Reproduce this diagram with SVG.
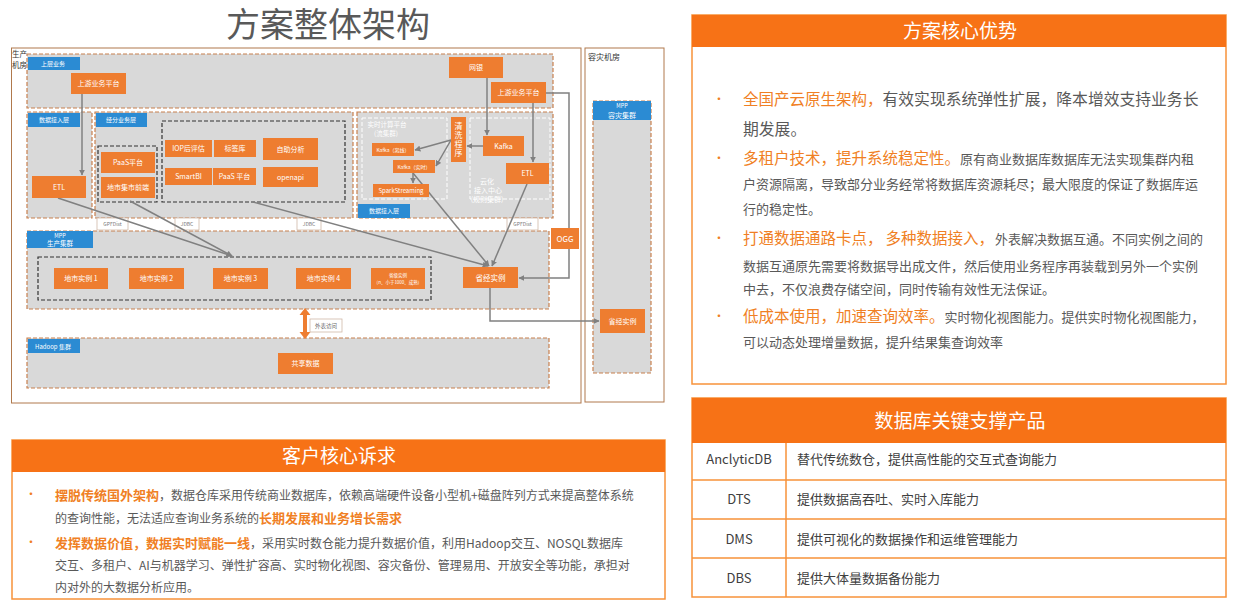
<svg xmlns="http://www.w3.org/2000/svg" width="1240" height="607" viewBox="0 0 1240 607">
<defs>
<marker id="ah" viewBox="0 0 10 10" refX="9" refY="5" markerWidth="6" markerHeight="6" markerUnits="userSpaceOnUse" orient="auto"><path d="M0,0 L10,5 L0,10 z" fill="#808080"/></marker>
</defs>
<style>
text{font-family:"Noto Sans CJK SC","Liberation Sans",sans-serif}
.rg{fill:#d9d9d9;stroke:#c8804f;stroke-width:1.2;stroke-dasharray:4 2}
.bk{fill:none;stroke:#333;stroke-width:1.2;stroke-dasharray:4 2}
.wd{fill:none;stroke:#fff;stroke-width:1;stroke-dasharray:4 2}
.nd{fill:#ee7d30}
.bl{fill:#2b8bd3}
.nt{fill:#fff;font-size:7px;text-anchor:middle}
.bt{fill:#fff;font-size:6px;text-anchor:middle}
.cn{fill:none;stroke:#808080;stroke-width:1.5}
.lb{fill:#fff;stroke:#d0b8a8;stroke-width:0.8}
.lt{fill:#777;font-size:5px;text-anchor:middle}
.room{fill:none;stroke:#b0794c;stroke-width:1}
.hd{fill:#f77216}
.pb{fill:#fff;stroke:#f7923a;stroke-width:1.5}
.ht{fill:#fff;font-size:19px;text-anchor:middle}
.og{fill:#f07f24}
.gy{fill:#595959}
.bu{fill:#f07f24;font-size:12px}
.tl{fill:none;stroke:#f7923a;stroke-width:1.5}
.tc{fill:#404040;font-size:13px}
</style>

<text x="328" y="37" font-size="34" fill="#595959" text-anchor="middle">方案整体架构</text>

<!-- rooms -->
<g id="prod-room">
<rect class="room" x="11.5" y="48" width="569.5" height="355"/>
<text x="12" y="57" font-size="7.5" fill="#333">生产</text>
<text x="12" y="68" font-size="7.5" fill="#333">机房</text>
</g>
<g id="dr-room">
<rect class="room" x="585" y="48" width="79" height="354"/>
<text x="588" y="60" font-size="8" fill="#333">容灾机房</text>
</g>

<!-- regions -->
<g id="upper-layer">
<rect class="rg" x="27" y="54" width="526" height="54"/>
<rect class="bl" x="28" y="57" width="52" height="13"/>
<text class="bt" x="53" y="65.5">上层业务</text>
</g>
<g id="access-left">
<rect class="rg" x="27" y="112" width="65" height="106"/>
<rect class="bl" x="28" y="113" width="52" height="14"/>
<text class="bt" x="54" y="122">数据接入层</text>
</g>
<g id="jingfen-layer">
<rect class="rg" x="95" y="112" width="258" height="106"/>
<rect class="bl" x="96" y="113" width="51" height="14"/>
<text class="bt" x="121" y="122">经分业务层</text>
<rect class="bk" x="98" y="146" width="59" height="56"/>
<rect class="bk" x="162" y="121" width="183" height="81"/>
</g>
<g id="realtime-layer">
<rect class="rg" x="357" y="112" width="196" height="106"/>
<rect class="wd" x="362" y="118" width="85" height="81"/>
<rect class="wd" x="470" y="118" width="80" height="81"/>
<text x="387" y="127" font-size="6.5" fill="#fff" text-anchor="middle">实时计算平台</text>
<text x="386" y="136" font-size="6.5" fill="#fff" text-anchor="middle">(流集群)</text>
<text x="487" y="184" font-size="7" fill="#fff" text-anchor="middle">云化</text>
<text x="488" y="193" font-size="7" fill="#fff" text-anchor="middle">接入中心</text>
<text x="487" y="202" font-size="7" fill="#fff" text-anchor="middle">(规则集群)</text>
<rect class="bl" x="358" y="204" width="52" height="14"/>
<text class="bt" x="384" y="213">数据接入层</text>
</g>
<g id="mpp-prod">
<rect class="rg" x="27" y="231" width="522" height="78"/>
<rect class="bl" x="27" y="231" width="66" height="17"/>
<text x="60" y="238" font-size="5.5" fill="#fff" text-anchor="middle">MPP</text>
<text x="60" y="246" font-size="6.5" fill="#fff" text-anchor="middle">生产集群</text>
<rect class="bk" x="38" y="257" width="393" height="43"/>
</g>
<g id="hadoop">
<rect class="rg" x="27" y="338" width="522" height="50"/>
<rect class="bl" x="28" y="339" width="52" height="14"/>
<text class="bt" x="53" y="348.5">Hadoop 集群</text>
</g>
<g id="mpp-dr">
<rect class="rg" x="593" y="101" width="58" height="272"/>
<rect class="bl" x="593" y="101" width="58" height="19"/>
<text x="622" y="108" font-size="5.5" fill="#fff" text-anchor="middle">MPP</text>
<text x="622" y="117.5" font-size="7" fill="#fff" text-anchor="middle">容灾集群</text>
</g>

<!-- interface labels -->
<g id="lbl-gpfdist1"><rect class="lb" x="97" y="218" width="31" height="12"/><text class="lt" x="112.5" y="226">GPFDist</text></g>
<g id="lbl-jdbc1"><rect class="lb" x="175" y="218" width="24" height="12"/><text class="lt" x="187" y="226">JDBC</text></g>
<g id="lbl-jdbc2"><rect class="lb" x="297" y="218" width="24" height="12"/><text class="lt" x="309" y="226">JDBC</text></g>
<g id="lbl-gpfdist2"><rect class="lb" x="507" y="218" width="31" height="12"/><text class="lt" x="522.5" y="226">GPFDist</text></g>

<!-- connectors -->
<g id="connectors">
<path class="cn" d="M82,94 L82,175" marker-end="url(#ah)"/>
<path class="cn" d="M487,78 L487,135" marker-end="url(#ah)"/>
<path class="cn" d="M533,103 L533,162" marker-end="url(#ah)"/>
<path class="cn" d="M546,93 L569,93 L569,278 L519,278" marker-end="url(#ah)"/>
<path class="cn" d="M483,146 L467,146" marker-end="url(#ah)"/>
<path class="cn" d="M451,140 L415,150" marker-end="url(#ah)"/>
<path class="cn" d="M451,140 L436,166" marker-end="url(#ah)"/>
<path class="cn" d="M413,173 L413,183" marker-end="url(#ah)"/>
<path class="cn" d="M413,173 L489,266" marker-end="url(#ah)"/>
<path class="cn" d="M527,184 L492,266" marker-end="url(#ah)"/>
<path class="cn" d="M253,202 L488,266" marker-end="url(#ah)"/>
<path class="cn" d="M58,198 L232,256" marker-end="url(#ah)"/>
<path class="cn" d="M130,201 L232,256" marker-end="url(#ah)"/>
<path class="cn" d="M490,288 L490,321 L599,321" marker-end="url(#ah)"/>
<polygon points="305,308 310.5,315 307,315 307,332 310.5,332 305,339 299.5,332 303,332 303,315 299.5,315" fill="#ee7d30"/>
</g>
<g id="lbl-external"><rect class="lb" x="310" y="319" width="32" height="13"/><text x="326" y="327.5" font-size="5.5" fill="#666" text-anchor="middle">外表访问</text></g>

<!-- nodes -->
<g id="n-upstream-l"><rect class="nd" x="71" y="73" width="55" height="21"/><text class="nt" x="98.5" y="86">上游业务平台</text></g>
<g id="n-wangyin"><rect class="nd" x="449" y="57" width="54" height="21"/><text class="nt" x="476" y="70">网银</text></g>
<g id="n-upstream-r"><rect class="nd" x="491" y="82" width="55" height="21"/><text class="nt" x="518.5" y="95">上游业务平台</text></g>
<g id="n-etl-l"><rect class="nd" x="32" y="176" width="54" height="22"/><text class="nt" x="59" y="189.5">ETL</text></g>
<g id="n-paas1"><rect class="nd" x="101" y="152" width="54" height="21"/><text class="nt" x="128" y="165">PaaS平台</text></g>
<g id="n-dishi-front"><rect class="nd" x="101" y="177" width="54" height="21"/><text class="nt" x="128" y="190">地市集市前端</text></g>
<g id="n-iop"><rect class="nd" x="165" y="140" width="47" height="17"/><text class="nt" x="188.5" y="151">IOP后评估</text></g>
<g id="n-tag"><rect class="nd" x="214" y="140" width="42" height="17"/><text class="nt" x="235" y="151">标签库</text></g>
<g id="n-selfana"><rect class="nd" x="263" y="138" width="55" height="22"/><text class="nt" x="290.5" y="151.5">自助分析</text></g>
<g id="n-smartbi"><rect class="nd" x="165" y="168" width="47" height="17"/><text class="nt" x="188.5" y="179">SmartBI</text></g>
<g id="n-paas2"><rect class="nd" x="213" y="168" width="43" height="17"/><text class="nt" x="234.5" y="179">PaaS 平台</text></g>
<g id="n-openapi"><rect class="nd" x="263" y="167" width="55" height="20"/><text class="nt" x="290.5" y="179.5">openapi</text></g>
<g id="n-clean"><rect class="nd" x="451" y="117" width="15" height="45"/>
<text x="458.5" y="129" font-size="8" fill="#fff" text-anchor="middle">清</text>
<text x="458.5" y="138" font-size="8" fill="#fff" text-anchor="middle">洗</text>
<text x="458.5" y="147" font-size="8" fill="#fff" text-anchor="middle">程</text>
<text x="458.5" y="156" font-size="8" fill="#fff" text-anchor="middle">序</text></g>
<g id="n-kafka-r"><rect class="nd" x="483" y="136" width="41" height="20"/><text class="nt" x="503.5" y="148.5">Kafka</text></g>
<g id="n-etl-r"><rect class="nd" x="506" y="163" width="43" height="21"/><text class="nt" x="527.5" y="176">ETL</text></g>
<g id="n-kafka-off"><rect class="nd" x="372" y="143" width="42" height="13"/><text x="393" y="151.5" font-size="5" fill="#fff" text-anchor="middle">Kafka（离线）</text></g>
<g id="n-kafka-rt"><rect class="nd" x="393" y="160" width="42" height="13"/><text x="414" y="168.5" font-size="5" fill="#fff" text-anchor="middle">Kafka（实时）</text></g>
<g id="n-spark"><rect class="nd" x="373" y="184" width="56" height="13"/><text x="401" y="192.5" font-size="6" fill="#fff" text-anchor="middle">SparkStreaming</text></g>
<g id="n-ds1"><rect class="nd" x="54" y="268" width="54" height="21"/><text class="nt" x="81" y="281">地市实例 1</text></g>
<g id="n-ds2"><rect class="nd" x="129" y="268" width="55" height="21"/><text class="nt" x="156.5" y="281">地市实例 2</text></g>
<g id="n-ds3"><rect class="nd" x="213" y="268" width="55" height="21"/><text class="nt" x="240.5" y="281">地市实例 3</text></g>
<g id="n-ds4"><rect class="nd" x="296" y="268" width="55" height="21"/><text class="nt" x="323.5" y="281">地市实例 4</text></g>
<g id="n-province-small"><rect class="nd" x="371" y="268" width="54" height="21"/>
<text x="398" y="277" font-size="4.5" fill="#fff" text-anchor="middle">省级实例</text>
<text x="398" y="284" font-size="4.5" fill="#fff" text-anchor="middle">(n、小于1000、成熟)</text></g>
<g id="n-shengjing"><rect class="nd" x="463" y="267" width="55" height="21"/><text x="490.5" y="280.5" font-size="7.5" fill="#fff" text-anchor="middle">省经实例</text></g>
<g id="n-ogg"><rect class="nd" x="551" y="228" width="28" height="21"/><text x="565" y="241.5" font-size="8" fill="#fff" text-anchor="middle">OGG</text></g>
<g id="n-share"><rect class="nd" x="278" y="353" width="55" height="21"/><text class="nt" x="305.5" y="366">共享数据</text></g>
<g id="n-shengjing-dr"><rect class="nd" x="600" y="309" width="45" height="24"/><text class="nt" x="622.5" y="323.5">省经实例</text></g>

<!-- panel: 方案核心优势 -->
<g id="panel-advantages">
<rect class="pb" x="692" y="15" width="534" height="369"/>
<rect class="hd" x="692" y="15" width="534" height="32"/>
<text class="ht" x="960" y="38">方案核心优势</text>
<text class="bu" x="713" y="104">•</text>
<text x="743" y="104.5" font-size="15.5"><tspan class="og">全国产云原生架构，</tspan><tspan class="gy" font-size="15.8">有效实现系统弹性扩展，降本增效支持业务长</tspan></text>
<text class="gy" x="743" y="134.5" font-size="15.8">期发展。</text>
<text class="bu" x="713" y="163">•</text>
<text x="743" y="163.5" font-size="15.5"><tspan class="og">多租户技术，提升系统稳定性。</tspan><tspan class="gy" font-size="13">原有商业数据库数据库无法实现集群内租</tspan></text>
<text class="gy" x="743" y="188.5" font-size="13">户资源隔离，导致部分业务经常将数据库资源耗尽；最大限度的保证了数据库运</text>
<text class="gy" x="743" y="213.5" font-size="13">行的稳定性。</text>
<text class="bu" x="713" y="243">•</text>
<text x="743" y="243.5" font-size="15.5"><tspan class="og">打通数据通路卡点，</tspan><tspan class="og" dx="3">多种数据接入，</tspan><tspan class="gy" font-size="13" dx="1">外表解决数据互通。不同实例之间的</tspan></text>
<text class="gy" x="743" y="270.5" font-size="13">数据互通原先需要将数据导出成文件，然后使用业务程序再装载到另外一个实例</text>
<text class="gy" x="743" y="293.5" font-size="13">中去，不仅浪费存储空间，同时传输有效性无法保证。</text>
<text class="bu" x="713" y="321">•</text>
<text x="743" y="321.5" font-size="15.5"><tspan class="og">低成本使用，加速查询效率。</tspan><tspan class="gy" font-size="13">实时物化视图能力。提供实时物化视图能力，</tspan></text>
<text class="gy" x="743" y="346.5" font-size="13">可以动态处理增量数据，提升结果集查询效率</text>
</g>

<!-- panel: 数据库关键支撑产品 -->
<g id="panel-products">
<rect class="pb" x="692" y="398" width="534" height="199"/>
<rect class="hd" x="692" y="398" width="534" height="45"/>
<text class="ht" x="960" y="428" font-size="20">数据库关键支撑产品</text>
<path class="tl" d="M692,480 H1226 M692,519 H1226 M692,558 H1226 M786,443 V597"/>
<text class="tc" x="739" y="464" text-anchor="middle">AnclyticDB</text>
<text class="tc" x="739" y="503.5" text-anchor="middle">DTS</text>
<text class="tc" x="739" y="543.5" text-anchor="middle">DMS</text>
<text class="tc" x="739" y="582.5" text-anchor="middle">DBS</text>
<text class="tc" x="797" y="464">替代传统数仓，提供高性能的交互式查询能力</text>
<text class="tc" x="797" y="503.5">提供数据高吞吐、实时入库能力</text>
<text class="tc" x="797" y="543.5">提供可视化的数据操作和运维管理能力</text>
<text class="tc" x="797" y="582.5">提供大体量数据备份能力</text>
</g>

<!-- panel: 客户核心诉求 -->
<g id="panel-needs">
<rect class="pb" x="12" y="440" width="653" height="159"/>
<rect class="hd" x="12" y="440" width="653" height="32"/>
<text class="ht" x="339" y="463">客户核心诉求</text>
<text class="bu" x="25" y="499">•</text>
<text x="55" y="499.5" font-size="12"><tspan class="og" font-size="13" font-weight="bold">摆脱传统国外架构</tspan><tspan class="gy">，数据仓库采用传统商业数据库，依赖高端硬件设备小型机+磁盘阵列方式来提高整体系统</tspan></text>
<text x="55" y="522.5" font-size="12"><tspan class="gy">的查询性能，无法适应查询业务系统的</tspan><tspan class="og" font-size="13" font-weight="bold">长期发展和业务增长需求</tspan></text>
<text class="bu" x="25" y="547">•</text>
<text x="55" y="547.5" font-size="12"><tspan class="og" font-size="13" font-weight="bold">发挥数据价值，数据实时赋能一线</tspan><tspan class="gy">，采用实时数仓能力提升数据价值，利用Hadoop交互、NOSQL数据库</tspan></text>
<text class="gy" x="55" y="569.5" font-size="12">交互、多租户、AI与机器学习、弹性扩容高、实时物化视图、容灾备份、管理易用、开放安全等功能，承担对</text>
<text class="gy" x="55" y="591.5" font-size="12">内对外的大数据分析应用。</text>
</g>
</svg>
